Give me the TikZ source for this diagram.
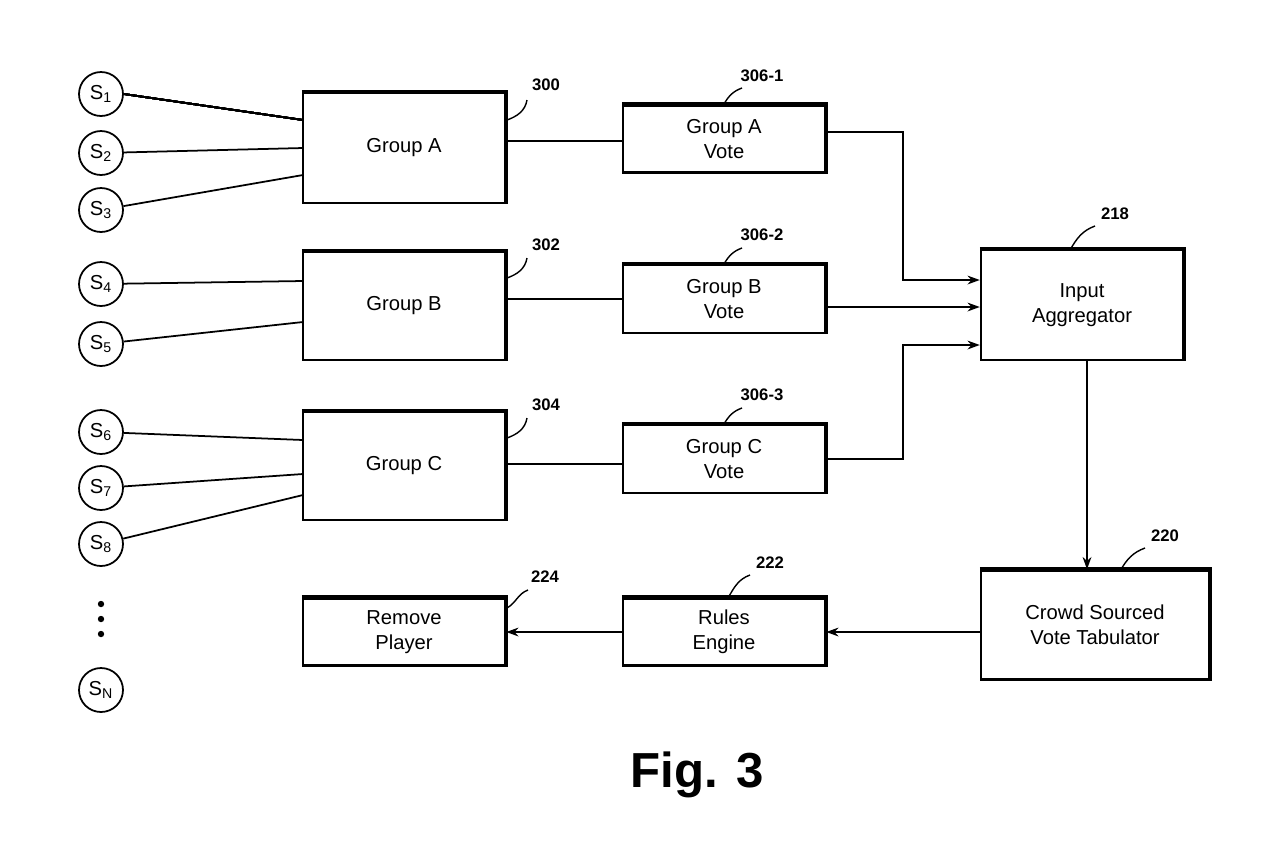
\documentclass[tikz,border=0pt]{standalone}
\usepackage{fontspec}
\setmainfont{Liberation Sans}
\usetikzlibrary{positioning,calc,arrows.meta}
\tikzset{
  blk/.style={draw, line width=1.4pt, minimum width=4.04cm, align=center, font=\fontsize{11.5}{14}\selectfont},
  sen/.style={circle, draw, line width=1pt, minimum size=0.88cm, inner sep=0pt, font=\fontsize{11.5}{13}\selectfont},
  ref/.style={font=\fontsize{9.5}{11}\selectfont\bfseries},
  lead/.style={line width=0.8pt},
  arr/.style={-{Stealth[length=7pt,width=5pt]}, line width=1pt},
  ln/.style={line width=1pt}
}
\newcommand{\shd}[1]{\draw[line width=2.4pt] (#1.north west) -- (#1.north east) -- (#1.south east);}
\begin{document}
\begin{tikzpicture}[x=0.02cm,y=-0.02cm]
\useasboundingbox (0,0) rectangle (1280,867);
% sources
\node[sen] (s1) at (101,94) {S\textsubscript{1}};
\node[sen] (s2) at (101,153) {S\textsubscript{2}};
\node[sen] (s3) at (101,210) {S\textsubscript{3}};
\node[sen] (s4) at (101,284) {S\textsubscript{4}};
\node[sen] (s5) at (101,344) {S\textsubscript{5}};
\node[sen] (s6) at (101,432) {S\textsubscript{6}};
\node[sen] (s7) at (101,488) {S\textsubscript{7}};
\node[sen] (s8) at (101,544) {S\textsubscript{8}};
\node[sen] (sn) at (101,690) {S\textsubscript{N}};
\foreach \y in {604,619,634} \fill (101,\y) circle (3.2);
% groups
\node[blk, minimum height=2.2cm] (ga) at (404,148) {Group A};
\node[blk, minimum height=2.16cm] (gb) at (404,306) {Group B};
\node[blk, minimum height=2.16cm] (gc) at (404,466) {Group C};
\node[blk, minimum height=1.34cm] (va) at (724,139) {Group A\\Vote};
\node[blk, minimum height=1.36cm] (vb) at (724,299) {Group B\\Vote};
\node[blk, minimum height=1.36cm] (vc) at (724,459) {Group C\\Vote};
\node[blk, minimum height=2.2cm] (agg) at (1082,305) {Input\\Aggregator};
\node[blk, minimum width=4.56cm, minimum height=2.18cm] (tab) at (1095,625) {Crowd Sourced\\Vote Tabulator};
\node[blk, minimum height=1.34cm] (rul) at (724,632) {Rules\\Engine};
\node[blk, minimum height=1.34cm] (rem) at (404,632) {Remove\\Player};
\foreach \b in {ga,gb,gc,va,vb,vc,agg,tab,rul,rem} \shd{\b}
% sensor lines
\draw[ln] (s1.east) -- (303,120);
\draw[ln] (s2) -- (303,148);
\draw[ln] (s3) -- (303,175);
\draw[ln] (s4) -- (303,281);
\draw[ln] (s5) -- (303,322);
\draw[ln] (s6) -- (303,440);
\draw[ln] (s7) -- (303,474);
\draw[ln] (s8) -- (303,495);
% group to vote
\draw[ln] (ga.east |- 0,141) -- (va.west |- 0,141);
\draw[ln] (gb.east |- vb) -- (vb.west);
\draw[ln] (gc.east |- 0,464) -- (vc.west |- 0,464);
% votes to aggregator
\draw[arr] (va.east |- 0,132) -| (903,280) -- (agg.west |- 0,280);
\draw[arr] (vb.east |- 0,307) -- (agg.west |- 0,307);
\draw[arr] (vc.east |- 0,459) -| (903,345) -- (agg.west |- 0,345);
\draw[arr] (agg.south -| 1087,0) -- (tab.north -| 1087,0);
\draw[arr] (tab.west |- rul) -- (rul);
\draw[arr] (rul) -- (rem);
% reference numerals
\node[ref] (n300) at (546,85) {300};
\node[ref] (n302) at (546,245) {302};
\node[ref] (n304) at (546,405) {304};
\node[ref] (n3061) at (762,76) {306-1};
\node[ref] (n3062) at (762,235) {306-2};
\node[ref] (n3063) at (762,395) {306-3};
\node[ref] (n218) at (1115,214) {218};
\node[ref] (n220) at (1165,536) {220};
\node[ref] (n222) at (770,563) {222};
\node[ref] (n224) at (545,577) {224};
\draw[lead] (507,120) to[out=20,in=-100] (527,100);
\draw[lead] (507,278) to[out=20,in=-100] (527,258);
\draw[lead] (507,438) to[out=20,in=-100] (527,418);
\draw[lead] (724,104) to[out=60,in=200] (742,88);
\draw[lead] (724,264) to[out=60,in=200] (742,248);
\draw[lead] (724,424) to[out=60,in=200] (742,408);
\draw[lead] (1070,250) to[out=60,in=200] (1095,226);
\draw[lead] (1120,571) to[out=60,in=200] (1145,548);
\draw[lead] (728,598) to[out=60,in=200] (750,575);
\draw[lead] (507,608) to[out=30,in=200] (528,590);
% caption
\node[font=\fontsize{28}{32}\selectfont\bfseries] (fig) at (697,775) {Fig. 3};
\end{tikzpicture}
\end{document}
